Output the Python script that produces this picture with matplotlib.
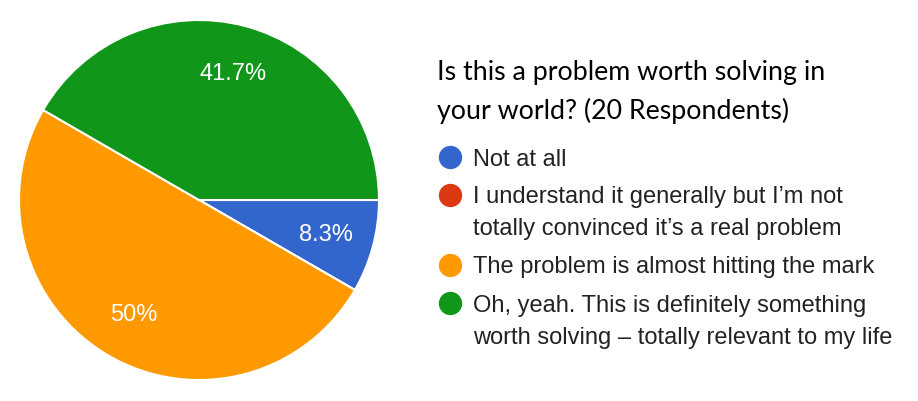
import matplotlib
matplotlib.use("Agg")
import matplotlib.pyplot as plt

categories = [
    "Not at all",
    "I understand it generally but I\u2019m not\ntotally convinced it\u2019s a real problem",
    "The problem is almost hitting the mark",
    "Oh, yeah. This is definitely something\nworth solving \u2013 totally relevant to my life",
]
counts = [1, 0, 6, 5]
colors = ["#3366CC", "#DC3912", "#FF9900", "#109618"]
title_lines = ["Is this a problem worth solving in", "your world? (20 Respondents)"]

W, H = 918, 402
fig = plt.figure(figsize=(W / 100, H / 100), dpi=100)
fig.patch.set_facecolor("white")

# pie axes (pixel placement)
cx, cy, r = 199, 201, 180
pax = fig.add_axes([(cx - r) / W, (H - cy - r) / H, 2 * r / W, 2 * r / H])


def fmt(p):
    if p < 0.05:
        return ""
    s = f"{p:.1f}"
    if s.endswith(".0"):
        s = s[:-2]
    return s + "%"


wedges, texts, autotexts = pax.pie(
    counts, colors=colors, startangle=0, counterclock=False,
    autopct=fmt, pctdistance=0.73, radius=1.0,
    wedgeprops=dict(edgecolor="white", linewidth=1.5),
    textprops=dict(color="white", fontsize=17, family="Liberation Sans"),
)
for w in wedges:
    w.set_clip_on(False)
pax.set_xlim(-1.0, 1.0)
pax.set_ylim(-1.0, 1.0)
pax.axis("off")

# overlay axes for title + legend
ax = fig.add_axes([0, 0, 1, 1])
ax.set_xlim(0, W)
ax.set_ylim(H, 0)
ax.axis("off")
ax.patch.set_alpha(0)

title_baselines = [80, 119]
for t, yb in zip(title_lines, title_baselines):
    ax.text(437, yb, t, fontsize=19.3, family="Lato", color="#000000",
            va="baseline", ha="left")

marker_y = [157.7, 196, 266, 304]
first_baseline = [166, 203, 273, 312]
line_step = 32
for lab, col, my, fb in zip(categories, colors, marker_y, first_baseline):
    ax.plot([450], [my], marker="o", markersize=16.8, color=col,
            markeredgewidth=0, linestyle="none")
    for i, line in enumerate(lab.split("\n")):
        ax.text(473, fb + i * line_step, line, fontsize=17,
                family="Liberation Sans", color="#222222",
                va="baseline", ha="left")

fig.savefig("out.png", dpi=100, facecolor="white")
